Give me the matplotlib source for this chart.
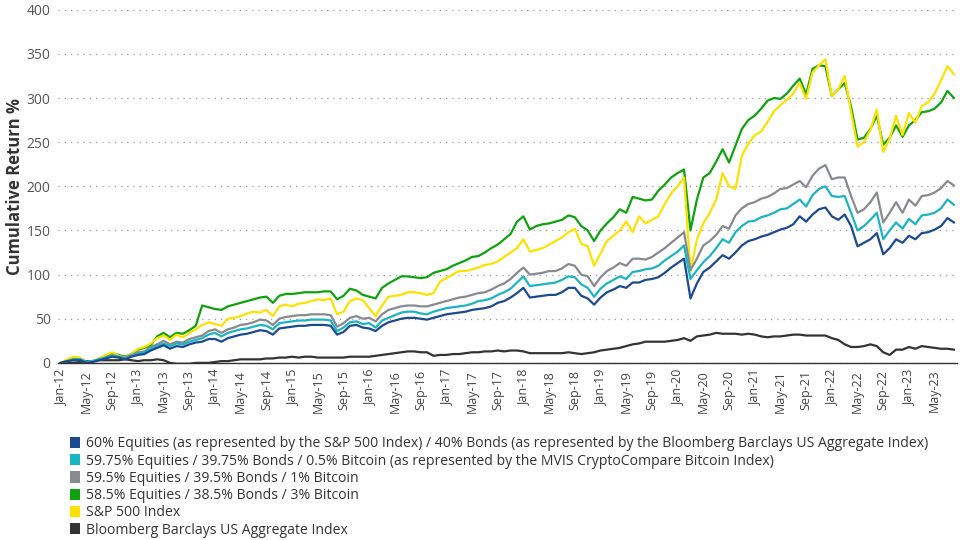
import pandas as pd
import matplotlib
matplotlib.use("Agg")
import matplotlib.pyplot as plt
from matplotlib.patches import Patch

plt.rcParams['font.family'] = ['Open Sans', 'DejaVu Sans']

# monthly cumulative returns (%), Jan-12 .. Aug-23
sp500 = [0, 4, 7, 6, -1, 2, 5, 9, 12, 8, 6, 10,
         16, 18, 22, 28, 31, 26, 32, 29, 34, 38, 43, 46,
         44, 42, 50, 51, 53, 56, 58, 57, 60, 53, 64, 66,
         64, 67, 68, 70, 72, 71, 73, 55, 58, 70, 73, 71,
         62, 53, 65, 75, 76, 77, 80, 80, 79, 77, 79, 92,
         96, 100, 104, 104, 106, 108, 111, 112, 115, 120, 125, 130,
         140, 126, 128, 130, 134, 138, 142, 148, 152, 135, 132, 110,
         124, 138, 144, 150, 160, 148, 166, 158, 162, 166, 180, 192,
         200, 210, 103, 140, 158, 170, 185, 215, 200, 197, 235, 248,
         258, 262, 273, 285, 292, 298, 305, 317, 299, 329, 337, 344,
         302, 310, 325, 284, 245, 250, 264, 287, 239, 254, 280, 258,
         283, 272, 291, 295, 305, 320, 336, 327]
btc_3 = [0, 3, 6, 5, 1, 2, 5, 8, 11, 9, 7, 10,
         15, 17, 20, 30, 34, 29, 34, 33, 37, 42, 65, 63,
         61, 60, 64, 66, 68, 70, 72, 74, 75, 68, 76, 78,
         78, 79, 80, 80, 80, 81, 81, 72, 76, 84, 82, 77,
         75, 73, 85, 90, 94, 98, 98, 97, 96, 97, 102, 104,
         106, 110, 113, 116, 120, 121, 125, 130, 134, 140, 146, 160,
         166, 151, 155, 157, 158, 160, 162, 167, 165, 155, 150, 138,
         150, 158, 165, 174, 170, 188, 186, 184, 185, 195, 202, 210,
         215, 219, 150, 185, 210, 215, 228, 242, 227, 246, 265, 275,
         280, 288, 297, 300, 299, 305, 314, 322, 304, 333, 337, 336,
         302, 310, 317, 290, 253, 255, 265, 280, 247, 255, 269, 256,
         269, 275, 284, 285, 288, 295, 308, 300]
btc_1 = [0, 2, 4, 4, 1, 2, 4, 6, 9, 7, 6, 9,
         12, 13, 18, 21, 25, 21, 24, 23, 27, 29, 31, 36,
         38, 34, 38, 40, 43, 44, 46, 49, 48, 43, 50, 52,
         53, 54, 54, 55, 55, 55, 54, 41, 45, 51, 53, 50,
         51, 47, 55, 60, 62, 64, 65, 65, 64, 64, 66, 68,
         70, 72, 74, 75, 77, 79, 80, 83, 87, 90, 95, 102,
         108, 100, 101, 102, 104, 104, 107, 112, 110, 100, 98, 87,
         97, 104, 108, 113, 110, 118, 118, 117, 120, 125, 130, 136,
         142, 148, 105, 118, 133, 138, 145, 155, 152, 167, 175, 180,
         182, 186, 188, 192, 197, 198, 202, 206, 199, 212, 220, 224,
         208, 210, 210, 189, 170, 174, 182, 193, 159, 170, 182, 170,
         185, 178, 189, 190, 193, 198, 206, 201]
btc_05 = [0, 2, 4, 4, 1, 2, 4, 6, 8, 7, 5, 8,
          10, 12, 16, 19, 22, 19, 22, 21, 24, 26, 28, 32,
          34, 30, 34, 36, 38, 39, 41, 43, 42, 38, 45, 46,
          47, 48, 48, 49, 49, 49, 48, 36, 40, 46, 47, 44,
          45, 40, 48, 51, 54, 57, 58, 58, 56, 55, 58, 60,
          62, 63, 64, 65, 67, 70, 71, 73, 77, 80, 84, 91,
          98, 87, 88, 89, 90, 91, 94, 98, 97, 89, 85, 75,
          84, 90, 94, 98, 95, 103, 104, 106, 107, 110, 116, 121,
          126, 133, 95, 105, 114, 121, 130, 140, 136, 148, 155, 160,
          161, 165, 167, 170, 174, 175, 180, 185, 177, 190, 197, 200,
          189, 188, 189, 170, 150, 155, 162, 170, 140, 150, 159, 152,
          163, 157, 167, 168, 170, 175, 185, 179]
eq_bonds = [0, 2, 3, 3, 0, 1, 3, 5, 7, 6, 4, 7,
            9, 10, 14, 17, 20, 16, 19, 18, 21, 23, 24, 27,
            27, 24, 28, 30, 32, 33, 35, 37, 36, 32, 39, 40,
            41, 42, 42, 43, 43, 43, 42, 32, 35, 42, 43, 40,
            39, 36, 42, 46, 48, 50, 51, 51, 50, 49, 51, 53,
            55, 56, 57, 58, 60, 61, 62, 64, 68, 70, 74, 79,
            85, 74, 75, 76, 77, 77, 80, 85, 85, 76, 73, 66,
            74, 80, 83, 87, 85, 91, 91, 94, 95, 97, 102, 108,
            113, 118, 73, 90, 103, 108, 115, 122, 118, 125, 133, 138,
            140, 143, 145, 148, 151, 153, 157, 166, 160, 168, 174, 176,
            166, 162, 168, 155, 132, 136, 140, 147, 123, 130, 140, 136,
            144, 140, 147, 148, 151, 155, 164, 159]
agg = [0, 0, 0, 1, 2, 2, 3, 3, 3, 3, 4, 3,
       2, 3, 3, 4, 3, 0, -1, -1, -1, 0, 0, 0,
       1, 2, 2, 3, 4, 4, 4, 4, 5, 5, 6, 6,
       7, 6, 7, 7, 6, 6, 6, 6, 6, 7, 7, 7,
       7, 8, 9, 10, 11, 12, 13, 13, 12, 12, 8, 9,
       9, 10, 10, 11, 12, 12, 13, 13, 14, 13, 14, 14,
       13, 11, 11, 11, 11, 11, 11, 12, 11, 10, 11, 12,
       14, 15, 16, 17, 19, 21, 22, 24, 24, 24, 24, 25,
       26, 28, 25, 30, 31, 32, 34, 33, 33, 33, 32, 33,
       32, 30, 29, 30, 30, 31, 32, 32, 31, 31, 31, 31,
       28, 26, 21, 18, 18, 19, 21, 19, 12, 9, 15, 15,
       18, 16, 19, 18, 17, 16, 16, 15]

labels = ['60% Equities (as represented by the S&P 500 Index) / 40% Bonds (as represented by the Bloomberg Barclays US Aggregate Index)',
          '59.75% Equities / 39.75% Bonds / 0.5% Bitcoin (as represented by the MVIS CryptoCompare Bitcoin Index)',
          '59.5% Equities / 39.5% Bonds / 1% Bitcoin',
          '58.5% Equities / 38.5% Bonds / 3% Bitcoin',
          'S&P 500 Index',
          'Bloomberg Barclays US Aggregate Index']
colors = ['#1c4a91', '#1ab5c3', '#878a8f', '#0ea30e', '#ffe100', '#333333']

months = pd.period_range('2012-01', periods=len(sp500), freq='M')
month_labels = [p.strftime('%b-%y') for p in months]
x = list(range(len(months)))

fig = plt.figure(figsize=(9.6, 5.4), dpi=100)
ax = fig.add_axes([0.06, 0.328, 0.937, 0.654])

series = [eq_bonds, btc_05, btc_1, btc_3, sp500, agg]
# draw order: agg, 3% btc, s&p, 1%, 0.5%, 60/40
for i in [5, 3, 4, 2, 1, 0]:
    ax.plot(x, series[i], color=colors[i], lw=1.6, solid_joinstyle='round')

ax.set_xlim(-0.5, len(x) - 0.5)
ax.set_ylim(0, 400)
ax.set_yticks(range(0, 401, 50))
ax.set_xticks(x[::4])
ax.set_xticklabels(month_labels[::4], rotation=90)
ax.tick_params(axis='y', length=0, pad=5, labelsize=10, labelcolor='#555555')
ax.tick_params(axis='x', length=0, pad=5, labelsize=9, labelcolor='#444444')
ax.grid(axis='y', linestyle=(0, (1, 4)), color='#999999', lw=0.9)
ax.set_axisbelow(True)
for s in ['left', 'right', 'top']:
    ax.spines[s].set_visible(False)
ax.spines['bottom'].set_color('#333333')
ax.spines['bottom'].set_linewidth(1.0)
ax.set_ylabel('Cumulative Return %', fontsize=12, fontweight='bold', color='#333333',
              va='center')
ax.yaxis.set_label_coords(-0.047, 0.5)

handles = [Patch(facecolor=c, edgecolor='none') for c in colors]
fig.legend(handles, labels, loc='upper left', bbox_to_anchor=(0.066, 0.205),
           frameon=False, fontsize=10.1, handlelength=0.7, handleheight=0.85,
           handletextpad=0.4, labelspacing=0.16, borderpad=0, labelcolor='#333333')

fig.savefig('out.png', dpi=100)
